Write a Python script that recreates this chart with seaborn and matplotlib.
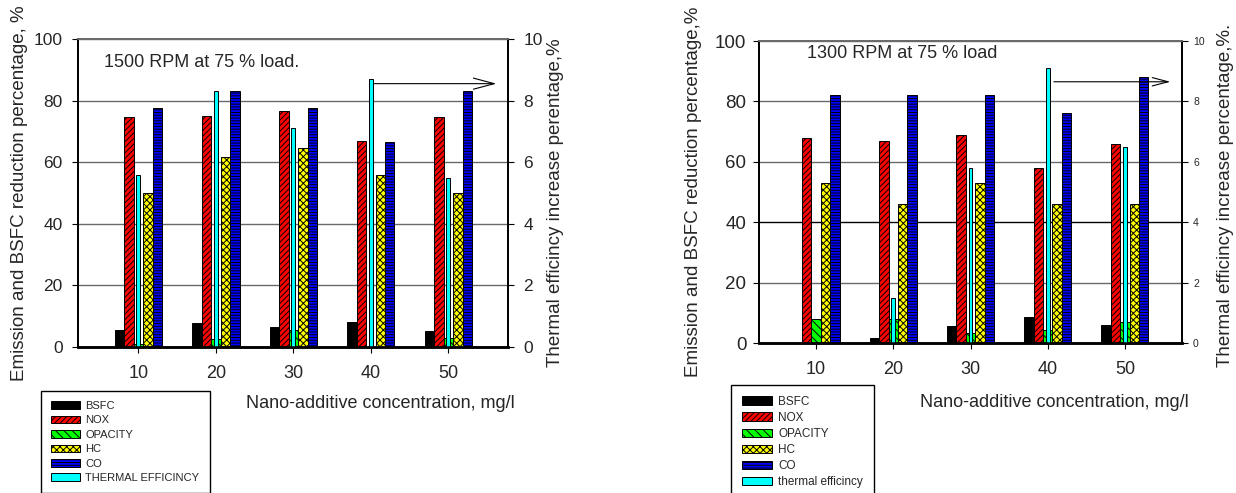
import matplotlib
matplotlib.use("Agg")
import matplotlib.pyplot as plt
import seaborn as sns
import pandas as pd
from matplotlib.patches import Patch

# ---------------- data ----------------
concentrations = ["10", "20", "30", "40", "50"]
params = ["BSFC", "NOX", "OPACITY", "HC", "CO"]

bsfc_1500 = [5.4, 7.7, 6.5, 8.0, 5.2]
nox_1500 = [74.6, 75.0, 76.5, 67.0, 74.6]
opacity_1500 = [0.9, 2.6, 5.4, 0.0, 2.9]
hc_1500 = [50.0, 61.6, 64.7, 55.7, 50.0]
co_1500 = [77.6, 83.2, 77.6, 66.7, 83.2]
te_1500 = [5.6, 8.3, 7.1, 8.7, 5.5]

bsfc_1300 = [0.0, 1.6, 5.6, 8.6, 6.0]
nox_1300 = [68.0, 67.0, 69.0, 58.0, 66.0]
opacity_1300 = [7.8, 7.8, 3.2, 4.4, 7.0]
hc_1300 = [53.0, 46.0, 53.0, 46.0, 46.0]
co_1300 = [82.0, 82.0, 82.0, 76.0, 88.0]
te_1300 = [0.0, 1.5, 5.8, 9.1, 6.5]

left_ticks = [0, 20, 40, 60, 80, 100]
right_ticks = [0, 2, 4, 6, 8, 10]

title_1500 = "1500 RPM at 75 % load."
title_1300 = "1300 RPM at 75 % load"
xlabel = "Nano-additive concentration, mg/l"
ylabel_left = "Emission and BSFC reduction percentage, %"
ylabel_left_2 = "Emission and BSFC reduction percentage,%"
ylabel_right_1 = "Thermal efficincy increase perentage,%"
ylabel_right_2 = "Thermal efficincy increase percentage,%."
te_label_1 = "THERMAL EFFICINCY"
te_label_2 = "thermal efficincy"

# ---------------- style ----------------
colors = {"BSFC": "#000000", "NOX": "#ff0000", "OPACITY": "#00ff00",
          "HC": "#ffff00", "CO": "#0000ff"}
hatches = {"BSFC": "", "NOX": "//////", "OPACITY": "\\\\\\\\",
           "HC": "xxxxx", "CO": "------"}
te_color = "#00ffff"

sns.set_theme(style="white")
plt.rcParams["font.family"] = ["Liberation Sans", "DejaVu Sans"]
plt.rcParams["hatch.linewidth"] = 0.7

W, H = 1236, 493
fig = plt.figure(figsize=(W / 100, H / 100), dpi=100)


def rect(x0, x1, ytop, ybot):
    return [x0 / W, 1 - ybot / H, (x1 - x0) / W, (ybot - ytop) / H]


def panel(r, series, te, title, title_xy, arrow, lt_size, rt_size,
          ylab_l, ylab_r, lab_l_x, lab_r_x, lab_r_y, te_label, leg_xy,
          leg_fs, leg_spacing, xlim, lpad, rpad, xlab_y, black40=False):
    ax = fig.add_axes(r)
    df = pd.DataFrame({
        "conc": concentrations * len(params),
        "param": [p for p in params for _ in concentrations],
        "value": [v for p in params for v in series[p]],
    })
    sns.barplot(data=df, x="conc", y="value", hue="param", hue_order=params,
                order=concentrations, palette=colors, width=0.61,
                saturation=1, edgecolor="black", linewidth=0.7,
                legend=False, ax=ax)
    for cont, p in zip(ax.containers, params):
        for bar in cont:
            bar.set_hatch(hatches[p])
    ax.set_ylim(0, 100)
    ax.set_yticks(left_ticks)
    ax.set_axisbelow(True)
    ax.yaxis.grid(True, color="#6a6a6a", lw=1.0)
    ax.xaxis.grid(False)
    if black40:
        ax.get_ygridlines()[2].set_color("black")
    ax.tick_params(axis="y", which="both", left=True, direction="out",
                   length=4, width=0.8, color="black", labelsize=lt_size,
                   pad=lpad)
    ax.tick_params(axis="x", bottom=True, direction="out", length=4,
                   width=0.8, color="black", labelsize=13, pad=9)
    ax.set_ylabel(ylab_l, fontsize=13.5)
    ax.yaxis.set_label_coords(lab_l_x, 0.5)
    ax.set_xlabel(xlabel, fontsize=13, loc="right")
    ax.xaxis.set_label_coords(1.015, xlab_y)

    ax2 = ax.twinx()
    sns.barplot(x=concentrations, y=te, order=concentrations, color=te_color,
                width=0.05, saturation=1, edgecolor="black", linewidth=0.7,
                ax=ax2)
    ax2.set_ylim(0, 10)
    ax2.set_yticks(right_ticks)
    ax2.grid(False)
    ax2.tick_params(axis="y", right=True, direction="out", length=4,
                    width=0.8, color="black", labelsize=rt_size, pad=rpad)
    ax2.set_ylabel(ylab_r, fontsize=13.5)
    ax2.yaxis.set_label_coords(lab_r_x, lab_r_y)
    ax.set_xlim(*xlim)
    ax2.set_xlim(*xlim)

    # frame
    for a in (ax, ax2):
        for s in a.spines:
            a.spines[s].set_visible(True)
            a.spines[s].set_color("black")
            a.spines[s].set_linewidth(1.3)
        a.spines["top"].set_color("#6a6a6a")
        a.spines["bottom"].set_linewidth(1.8)

    ax.text(title_xy[0], title_xy[1], title, fontsize=13, va="center",
            ha="left", zorder=5)
    (x0, x1, y, hl, hw) = arrow
    ax.annotate("", xy=(x1, y), xytext=(x0, y),
                arrowprops=dict(arrowstyle=f"->,head_length={hl},head_width={hw}",
                                color="black", lw=0.8, shrinkA=0, shrinkB=0,
                                mutation_scale=10), zorder=6)

    handles = [Patch(facecolor=colors[p], edgecolor="black", hatch=hatches[p],
                     linewidth=0.7) for p in params]
    handles.append(Patch(facecolor=te_color, edgecolor="black", linewidth=0.7))
    labels = params + [te_label]
    fig.legend(handles, labels, loc="upper left",
               bbox_to_anchor=(leg_xy[0] / W, 1 - leg_xy[1] / H),
               bbox_transform=fig.transFigure, fontsize=leg_fs,
               frameon=True, fancybox=False, framealpha=1,
               edgecolor="black", borderaxespad=0, borderpad=0.9,
               handlelength=2.6, handleheight=0.7, handletextpad=0.5,
               labelspacing=leg_spacing)
    return ax, ax2


panel(rect(78, 508, 39, 347),
      {"BSFC": bsfc_1500, "NOX": nox_1500, "OPACITY": opacity_1500,
       "HC": hc_1500, "CO": co_1500}, te_1500,
      title_1500, (-0.44, 92.5), (3.0, 4.62, 85.5, 1.5, 0.4),
      12.5, 12.5, ylabel_left, ylabel_right_1, -0.116, 1.09, 0.47,
      te_label_1, (41, 391), 8, 0.4, (-0.78, 4.77), 7, 7, -0.155)

panel(rect(759, 1182, 41, 343),
      {"BSFC": bsfc_1300, "NOX": nox_1300, "OPACITY": opacity_1300,
       "HC": hc_1300, "CO": co_1300}, te_1300,
      title_1300, (-0.12, 96), (3.08, 4.59, 86.5, 1.15, 0.3),
      13.5, 7.5, ylabel_left_2, ylabel_right_2, -0.135, 1.083, 0.49,
      te_label_2, (731, 385), 8.5, 0.35, (-0.74, 4.74), 5, 4, -0.17,
      black40=True)

fig.savefig("out.png", dpi=100)
